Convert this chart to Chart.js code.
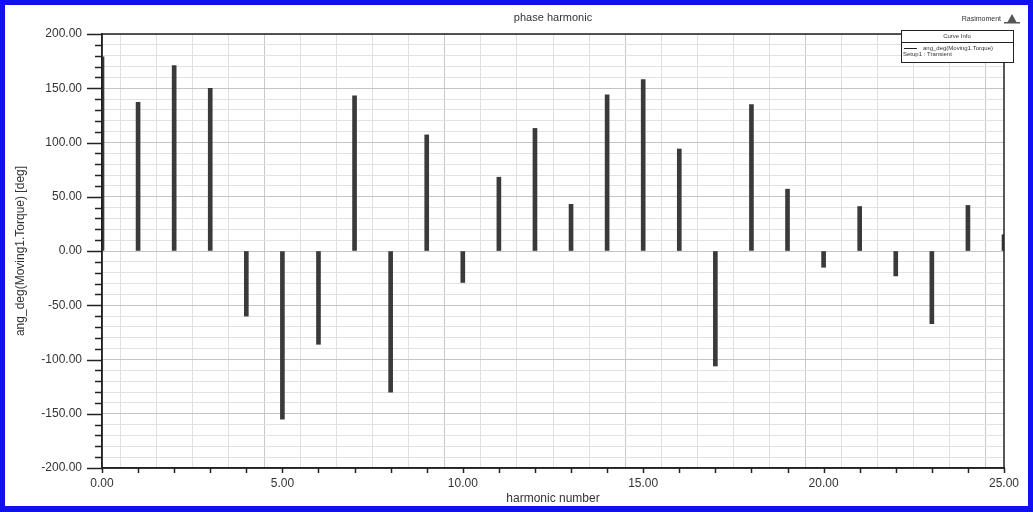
<!DOCTYPE html>
<html><head><meta charset="utf-8">
<script src="https://cdn.jsdelivr.net/npm/chart.js@4"></script>
<style>
html,body{margin:0;padding:0;background:#1010f0;}
#wrap{position:absolute;left:5px;top:5px;width:1023px;height:501px;background:#fff;}
canvas{display:block;}
</style></head><body>
<div id="wrap"><canvas id="c" width="1023" height="501"></canvas></div>
<script>
const harmonics = [0,1,2,3,4,5,6,7,8,9,10,11,12,13,14,15,16,17,18,19,20,21,22,23,24,25];
const phaseDeg = [179,137,171,150,-60,-155,-86,143,-130,107,-29,68,113,43,144,158,94,-106,135,57,-15,41,-23,-67,42,15];
const xTickLabels = [0,5,10,15,20,25];
const yTickLabels = [-200,-150,-100,-50,0,50,100,150,200];
const chartTitle = 'phase harmonic';
const xTitle = 'harmonic number';
const yTitle = 'ang_deg(Moving1.Torque) [deg]';
const legendHeader = 'Curve Info';
const legendLines = ['ang_deg(Moving1.Torque)', 'Setup1 : Transient'];
const cornerText = 'Rasimoment';

const FONT = "'Liberation Sans', Arial, sans-serif";

const overlay = {
  id: 'overlay',
  afterDraw(chart) {
    const ctx = chart.ctx, a = chart.chartArea;
    const xs = chart.scales.x, ys = chart.scales.y;
    ctx.save();
    ctx.strokeStyle = '#222'; ctx.lineWidth = 1.5;
    ctx.strokeRect(a.left, a.top, a.right - a.left, a.bottom - a.top);
    ctx.beginPath();
    for (let v = -200; v <= 200; v += 10) {
      const y = Math.round(ys.getPixelForValue(v)) + 0.5;
      const len = yTickLabels.includes(v) ? 15 : 7;
      ctx.moveTo(a.left - len, y); ctx.lineTo(a.left, y);
    }
    for (const h of harmonics) {
      const x = Math.round(xs.getPixelForValue(h)) + 0.5;
      ctx.moveTo(x, a.bottom); ctx.lineTo(x, a.bottom + 5);
    }
    ctx.stroke();
    ctx.fillStyle = '#333'; ctx.font = '11px ' + FONT; ctx.textAlign = 'center'; ctx.textBaseline = 'middle';
    ctx.fillText(chartTitle, (a.left + a.right) / 2, 13);
    ctx.font = '7px ' + FONT; ctx.textAlign = 'right';
    ctx.fillText(cornerText, 996, 14);
    ctx.fillStyle = '#555';
    ctx.beginPath(); ctx.moveTo(1007, 9); ctx.lineTo(1012, 18); ctx.lineTo(1002, 18); ctx.closePath(); ctx.fill();
    ctx.fillRect(999, 17, 16, 1.5);
    const bx = 896, by = 25, bw = 112, bh = 32;
    ctx.fillStyle = '#fff'; ctx.fillRect(bx, by, bw, bh);
    ctx.strokeStyle = '#222'; ctx.lineWidth = 1; ctx.strokeRect(bx + 0.5, by + 0.5, bw, bh);
    ctx.beginPath(); ctx.moveTo(bx, by + 12.5); ctx.lineTo(bx + bw, by + 12.5); ctx.stroke();
    ctx.fillStyle = '#333'; ctx.font = '6px ' + FONT; ctx.textAlign = 'center';
    ctx.fillText(legendHeader, bx + bw / 2, by + 6);
    ctx.beginPath(); ctx.moveTo(bx + 3, by + 18.5); ctx.lineTo(bx + 16, by + 18.5); ctx.stroke();
    ctx.textAlign = 'left';
    ctx.fillText(legendLines[0], bx + 22, by + 18);
    ctx.fillText(legendLines[1], bx + 2, by + 24);
    ctx.restore();
  }
};

new Chart(document.getElementById('c'), {
  type: 'bar',
  data: {
    datasets: [{
      data: harmonics.map((h, i) => ({x: h, y: phaseDeg[i]})),
      backgroundColor: '#3a3a3a',
      barThickness: 4,
      borderWidth: 0
    }]
  },
  options: {
    responsive: false,
    animation: false,
    layout: {padding: {top: 29, right: 24, left: 0, bottom: 0}},
    plugins: {legend: {display: false}, tooltip: {enabled: false}},
    scales: {
      x: {
        type: 'linear', min: 0, max: 25,
        offset: false,
        afterBuildTicks(s) { s.ticks = harmonics.map(v => ({value: v})); },
        afterFit(s) { s.height = 38; },
        grid: {
          color: ctx => (ctx.tick && xTickLabels.includes(ctx.tick.value)) ? '#c8c8c8' : '#e0e0e0',
          drawTicks: true, tickLength: 6, tickColor: 'rgba(0,0,0,0)',
          lineWidth: 1
        },
        border: {display: true, color: '#222', width: 1.5},
        ticks: {
          autoSkip: false, maxRotation: 0, padding: 2,
          color: '#333', font: {family: FONT, size: 12},
          callback: v => xTickLabels.includes(v) ? v.toFixed(2) : ''
        },
        title: {display: true, text: xTitle, color: '#333', font: {family: FONT, size: 12}, padding: {top: -2, bottom: 0}}
      },
      y: {
        min: -200, max: 200,
        afterBuildTicks(s) { const t = []; for (let v = -200; v <= 200; v += 10) t.push({value: v}); s.ticks = t; },
        afterFit(s) { s.width = 97; },
        grid: {
          color: ctx => (ctx.tick && yTickLabels.includes(ctx.tick.value)) ? '#c4c4c4' : '#e2e2e2',
          drawTicks: true, tickLength: 15, tickColor: 'rgba(0,0,0,0)',
          lineWidth: 1
        },
        border: {display: true, color: '#222', width: 1.5},
        ticks: {
          autoSkip: false, padding: 5,
          color: '#333', font: {family: FONT, size: 12},
          callback: v => yTickLabels.includes(v) ? v.toFixed(2) : ''
        },
        title: {display: true, text: yTitle, color: '#333', font: {family: FONT, size: 12}, padding: {top: 8, bottom: 0}}
      }
    }
  },
  plugins: [overlay]
});
</script>
</body></html>
